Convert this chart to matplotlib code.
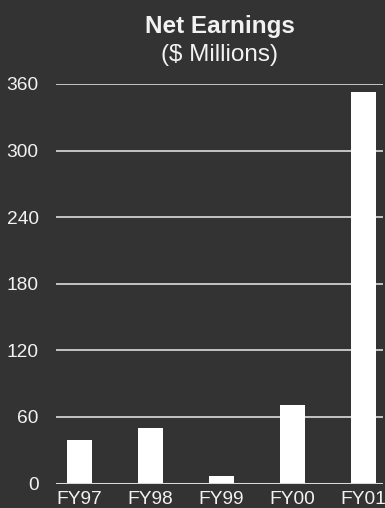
import matplotlib
matplotlib.use("Agg")
import matplotlib.pyplot as plt

# Data
years = ["FY97", "FY98", "FY99", "FY00", "FY01"]
earnings = [39, 50, 7, 71, 353]
yticks = [0, 60, 120, 180, 240, 300, 360]

bg = "#333333"
fg = "#f2f2f2"

plt.rcParams["font.family"] = ["Liberation Sans", "DejaVu Sans"]

fig = plt.figure(figsize=(3.85, 5.08), dpi=100, facecolor=bg)
ax = fig.add_axes([56 / 385, 1 - 483.5 / 508, 327 / 385, (483.5 - 84) / 508])
ax.set_facecolor(bg)

x = list(range(len(years)))

# Grid lines
for t in yticks[1:]:
    ax.axhline(t, color="#d0d0d0", linewidth=1.3, zorder=1)
ax.axhline(0, color="#d8d8d8", linewidth=2.2, zorder=3)

ax.bar(x, earnings, width=0.35, color="white", zorder=2)

ax.set_xlim(-0.33, 4.28)
ax.set_ylim(0, 360)
ax.set_yticks(yticks)
ax.set_xticks(x)
ax.set_xticklabels(years)

for s in ax.spines.values():
    s.set_visible(False)
ax.tick_params(axis="both", length=0, colors=fg, labelsize=13.8)
ax.tick_params(axis="y", pad=12.5)
ax.tick_params(axis="x", pad=5.5)

fig.text(219.5 / 385, 1 - 26 / 508, "Net Earnings", color=fg, fontsize=17.5,
         fontweight="bold", ha="center", va="center")
fig.text(219.5 / 385, 1 - 55 / 508, "($ Millions)", color=fg, fontsize=17.5,
         ha="center", va="center")

fig.savefig("out.png", dpi=100, facecolor=bg)
